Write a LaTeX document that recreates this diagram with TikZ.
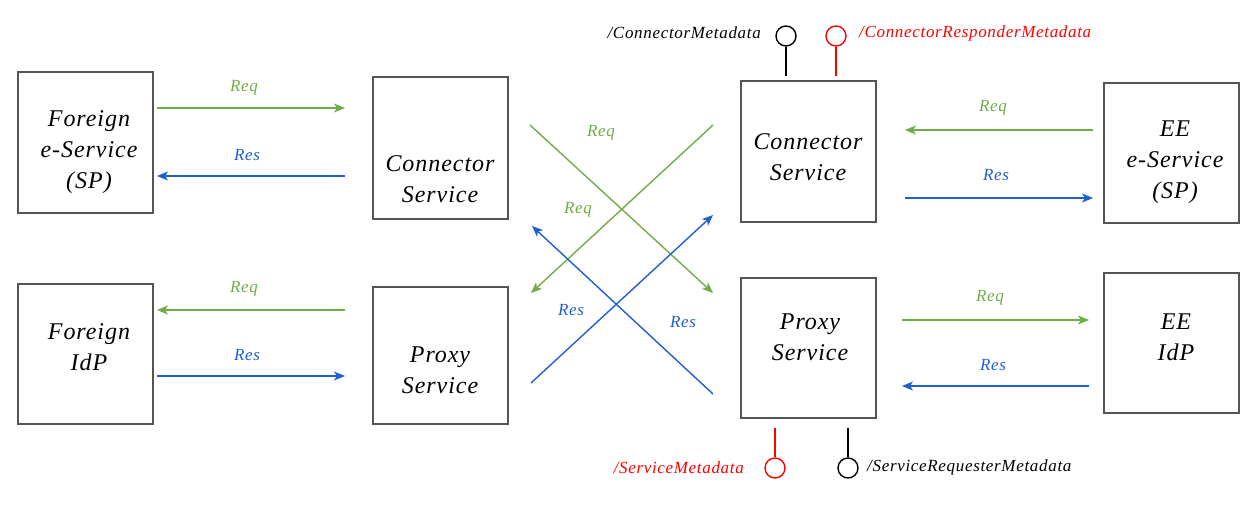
\documentclass[tikz,border=0pt]{standalone}
\usepackage{fontspec}
\setmainfont{Liberation Serif}
\newfontfamily\boxfont[LetterSpace=4]{Liberation Serif}
\newfontfamily\lblfont[LetterSpace=4]{Liberation Serif}
\usetikzlibrary{arrows.meta}
\definecolor{cgreen}{HTML}{70AD47}
\definecolor{cblue}{HTML}{1F5FCF}
\definecolor{cred}{HTML}{FF0000}
\definecolor{cbox}{HTML}{555555}
\begin{document}
\begin{tikzpicture}[x=1pt,y=-1pt,
  box/.style={draw=cbox,line width=1.4pt,rectangle,inner sep=0pt,minimum width=135pt},
  btext/.style={align=center,inner sep=0pt,font=\boxfont\fontsize{24}{31}\selectfont\itshape},
  lbl/.style={inner sep=0pt,font=\lblfont\fontsize{17}{19}\selectfont\itshape},
  greq/.style={cgreen,line width=1.4pt,-{Stealth[length=11pt,width=9pt,inset=3pt]}},
  bres/.style={cblue,line width=1.4pt,-{Stealth[length=11pt,width=9pt,inset=3pt]}},
  port/.style={circle,draw,line width=1.4pt,minimum size=20pt,inner sep=0pt},
  meta/.style={inner sep=0pt,font=\lblfont\fontsize{17}{19}\selectfont\itshape}]
\useasboundingbox (0,0) rectangle (1256,504);
% boxes
\node[box,minimum height=141pt] (fes) at (85.5,142.5) {};
\node[box,minimum height=140pt] (fidp) at (85.5,354) {};
\node[box,minimum height=142pt] (lcs) at (440.5,148) {};
\node[box,minimum height=137pt] (lps) at (440.5,355.5) {};
\node[box,minimum height=141pt] (rcs) at (808.5,151.5) {};
\node[box,minimum height=140pt] (rps) at (808.5,348) {};
\node[box,minimum height=140pt] (ees) at (1171.5,153) {};
\node[box,minimum height=140pt] (eeidp) at (1171.5,343) {};
% box texts
\node[btext] (fesT) at (89,152) {Foreign\\e-Service\\(SP)};
\node[btext] (fidpT) at (89,347) {Foreign\\IdP};
\node[btext] (lcsT) at (440,179) {Connector\\Service};
\node[btext] (lpsT) at (440,370) {Proxy\\Service};
\node[btext] (rcsT) at (808,157) {Connector\\Service};
\node[btext] (rpsT) at (810,337) {Proxy\\Service};
\node[btext] (eesT) at (1175,162) {EE\\e-Service\\(SP)};
\node[btext] (eeidpT) at (1176,337) {EE\\IdP};
% arrow end points
\coordinate (a1s) at (157,108); \coordinate (a1e) at (345,108);
\coordinate (a2s) at (345,176); \coordinate (a2e) at (157,176);
\coordinate (a3s) at (345,310); \coordinate (a3e) at (157,310);
\coordinate (a4s) at (157,376); \coordinate (a4e) at (345,376);
\coordinate (a5s) at (1093,130); \coordinate (a5e) at (905,130);
\coordinate (a6s) at (905,198); \coordinate (a6e) at (1093,198);
\coordinate (a7s) at (902,320); \coordinate (a7e) at (1089,320);
\coordinate (a8s) at (1089,386); \coordinate (a8e) at (902,386);
\coordinate (x1s) at (530,125); \coordinate (x1e) at (713,293);
\coordinate (x2s) at (713,125); \coordinate (x2e) at (531,293);
\coordinate (x3s) at (531,383); \coordinate (x3e) at (713,215);
\coordinate (x4s) at (713,394); \coordinate (x4e) at (532,226);
% horizontal arrows
\draw[greq] (a1s) -- (a1e);
\draw[bres] (a2s) -- (a2e);
\draw[greq] (a3s) -- (a3e);
\draw[bres] (a4s) -- (a4e);
\draw[greq] (a5s) -- (a5e);
\draw[bres] (a6s) -- (a6e);
\draw[greq] (a7s) -- (a7e);
\draw[bres] (a8s) -- (a8e);
% crossing arrows
\draw[greq] (x1s) -- (x1e);
\draw[greq] (x2s) -- (x2e);
\draw[bres] (x3s) -- (x3e);
\draw[bres] (x4s) -- (x4e);
% labels
\node[lbl,text=cgreen] (l1) at (244,88) {Req};
\node[lbl,text=cblue] (l2) at (247,155) {Res};
\node[lbl,text=cgreen] (l3) at (244,289) {Req};
\node[lbl,text=cblue] (l4) at (247,355) {Res};
\node[lbl,text=cgreen] (l5) at (993,108) {Req};
\node[lbl,text=cblue] (l6) at (996,175) {Res};
\node[lbl,text=cgreen] (l7) at (990,298) {Req};
\node[lbl,text=cblue] (l8) at (993,365) {Res};
\node[lbl,text=cgreen] (l9) at (601,133) {Req};
\node[lbl,text=cgreen] (l10) at (578,210) {Req};
\node[lbl,text=cblue] (l11) at (571,310) {Res};
\node[lbl,text=cblue] (l12) at (683,322) {Res};
% metadata ports
\node[port,draw=black] (cm) at (786,36) {};
\node[port,draw=cred] (cr) at (836,36) {};
\node[port,draw=cred] (sm) at (775,468) {};
\node[port,draw=black] (sr) at (848,468) {};
\coordinate (cmb) at (786,76);
\coordinate (crb) at (836,76);
\coordinate (smt) at (775,428);
\coordinate (srt) at (848,428);
\draw[line width=1.4pt,black] (cm.south) -- (cmb);
\draw[line width=1.4pt,cred] (cr.south) -- (crb);
\draw[line width=1.4pt,cred] (smt) -- (sm.north);
\draw[line width=1.4pt,black] (srt) -- (sr.north);
\node[meta,anchor=east] (cmL) at (761,33) {/ConnectorMetadata};
\node[meta,anchor=west,text=cred] (crL) at (859,33) {/ConnectorResponderMetadata};
\node[meta,anchor=east,text=cred] (smL) at (744,468) {/ServiceMetadata};
\node[meta,anchor=west] (srL) at (867,467) {/ServiceRequesterMetadata};
\end{tikzpicture}
\end{document}
